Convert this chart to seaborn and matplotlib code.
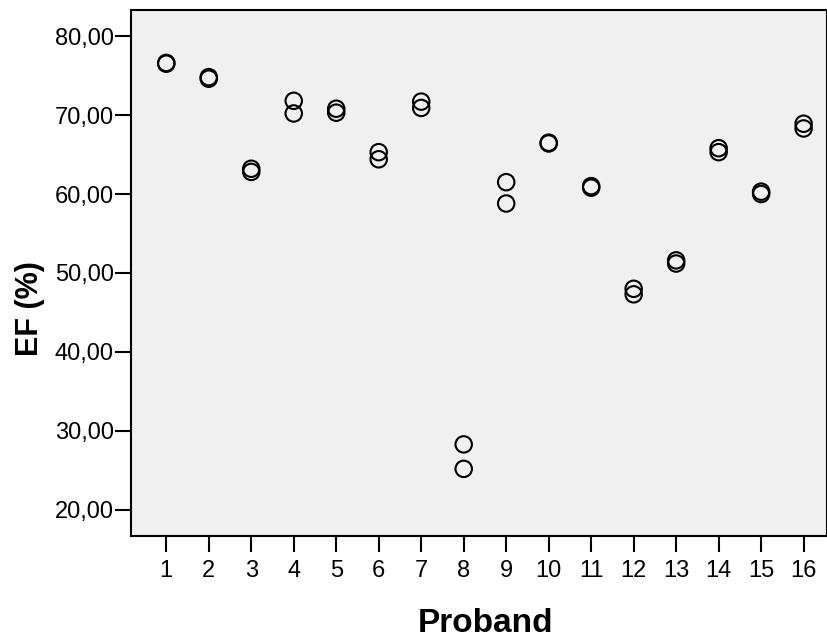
import matplotlib
matplotlib.use("Agg")
import matplotlib.pyplot as plt
import seaborn as sns
import pandas as pd
from matplotlib.ticker import FuncFormatter

# Werte (je Proband zwei Messungen)
proband = [1, 1, 2, 2, 3, 3, 4, 4, 5, 5, 6, 6, 7, 7, 8, 8,
           9, 9, 10, 10, 11, 11, 12, 12, 13, 13, 14, 14, 15, 15, 16, 16]
ef = [76.6, 76.5, 74.8, 74.6, 63.2, 62.8, 71.8, 70.2, 70.8, 70.3, 65.3, 64.4,
      71.7, 70.9, 28.3, 25.2, 61.5, 58.8, 66.5, 66.4, 61.0, 60.8, 48.0, 47.3,
      51.6, 51.2, 65.8, 65.3, 60.3, 60.0, 68.9, 68.3]
y_ticks = [20, 30, 40, 50, 60, 70, 80]
x_ticks = list(range(1, 17))

df = pd.DataFrame({"Proband": proband, "EF": ef})

sns.set_style("ticks")
plt.rcParams["font.family"] = ["Liberation Sans", "DejaVu Sans"]

fig = plt.figure(figsize=(8.28, 6.37), dpi=100)
ax = fig.add_axes([131 / 828, 1 - 536 / 637, 696 / 828, 526 / 637])
ax.set_facecolor("#f0f0f0")

sns.scatterplot(data=df, x="Proband", y="EF", ax=ax, marker="o",
                facecolor="none", edgecolor="black", linewidth=1.5, s=140)

ax.set_xlim(0.17, 16.55)
ax.set_ylim(16.7, 83.3)
ax.set_xticks(x_ticks)
ax.set_yticks(y_ticks)
ax.yaxis.set_major_formatter(FuncFormatter(lambda v, p: f"{v:.2f}".replace(".", ",")))
ax.tick_params(axis="both", direction="out", length=11.5, width=1.5,
               color="black", labelsize=17, labelcolor="black")
ax.tick_params(axis="x", pad=6)
ax.tick_params(axis="y", pad=1)

for sp in ax.spines.values():
    sp.set_color("black")
    sp.set_linewidth(1.5)

ax.set_xlabel("Proband", fontsize=24, fontweight="bold", color="black")
ax.set_ylabel("EF (%)", fontsize=22, fontweight="bold", color="black")
ax.xaxis.set_label_coords(0.509, -0.136)
ax.yaxis.set_label_coords(-0.124, 0.433)

fig.savefig("out.png", dpi=100)
